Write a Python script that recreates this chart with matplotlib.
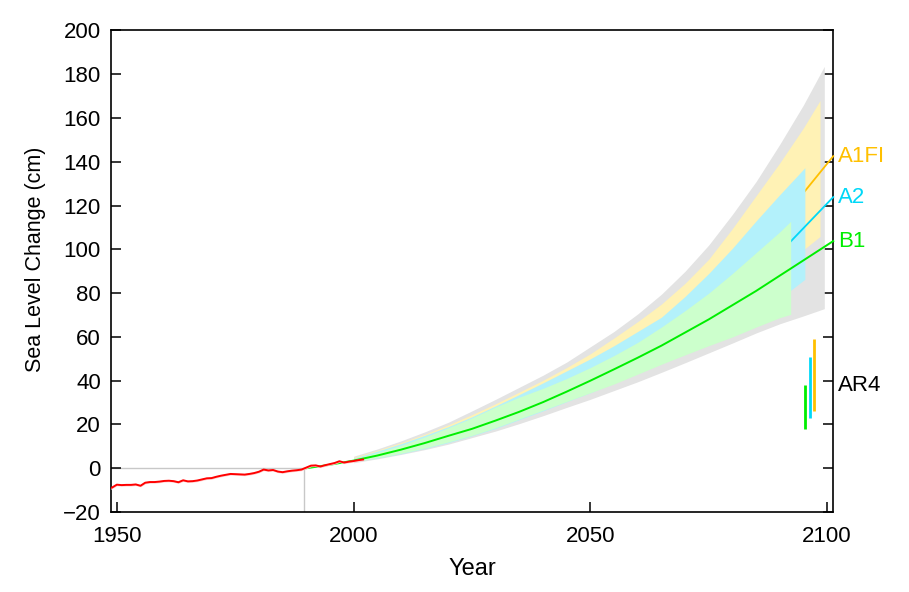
import matplotlib
matplotlib.use("Agg")
import matplotlib.pyplot as plt
import numpy as np

plt.rcParams['font.family'] = ['Liberation Sans', 'DejaVu Sans']

# ---------------- data ----------------
obs_years = list(range(1948, 2003))
obs_values = [-9.6, -8.8, -7.5, -7.7, -7.6, -7.6, -7.4, -8.0, -6.6, -6.3, -6.3, -6.1,
              -5.8, -5.7, -5.9, -6.4, -5.5, -6.0, -5.9, -5.6, -5.1, -4.6, -4.5, -3.9,
              -3.4, -3.0, -2.6, -2.7, -2.8, -2.9, -2.6, -2.2, -1.6, -0.6, -1.0, -0.8,
              -1.5, -1.8, -1.4, -1.1, -0.9, -0.6, 0.3, 1.2, 1.3, 0.8, 1.4, 1.9,
              2.4, 3.2, 2.6, 3.0, 3.3, 3.7, 4.0]

grey_years = [2000, 2005, 2010, 2015, 2020, 2025, 2030, 2035, 2040, 2045, 2050, 2055,
              2060, 2065, 2070, 2075, 2080, 2085, 2090, 2095, 2099.4]
grey_upper = [5.5, 8.8, 12.5, 16.6, 21.0, 26.2, 31.5, 37.0, 42.5, 48.5, 55.5, 62.5,
              70.5, 79.5, 90.0, 102.0, 116.0, 131.0, 148.0, 166.0, 183.6]
grey_lower = [2.5, 4.3, 6.3, 8.5, 11.0, 14.0, 17.0, 20.4, 24.0, 27.8, 31.5, 35.5,
              39.5, 43.8, 48.2, 52.7, 57.2, 61.8, 66.0, 69.6, 72.9]

a1fi_years = [2000, 2005, 2010, 2015, 2020, 2025, 2030, 2035, 2040, 2045, 2050, 2055,
              2060, 2065, 2070, 2075, 2080, 2085, 2090, 2095, 2098.5]
a1fi_upper = [5.0, 8.2, 11.7, 15.5, 19.8, 24.5, 29.5, 34.8, 40.2, 46.0, 52.3, 59.5,
              67.0, 75.0, 84.5, 95.5, 109.5, 124.5, 139.5, 155.5, 168.0]
a1fi_lower = [3.0, 4.9, 7.0, 9.3, 12.0, 15.1, 18.5, 22.5, 26.5, 30.7, 35.0, 40.0,
              45.0, 51.0, 57.0, 64.0, 71.0, 79.0, 88.0, 99.8, 105.9]

a2_years = [2000, 2005, 2010, 2015, 2020, 2025, 2030, 2035, 2040, 2045, 2050, 2055,
            2060, 2065, 2070, 2075, 2080, 2085, 2090, 2095.3]
a2_upper = [4.6, 7.8, 11.2, 15.0, 19.0, 23.5, 28.5, 33.7, 39.0, 44.5, 50.0, 56.0,
            62.5, 69.0, 78.5, 89.0, 100.5, 113.0, 125.0, 137.3]
a2_lower = [3.0, 4.7, 6.6, 9.0, 11.7, 14.8, 18.2, 22.2, 26.2, 30.4, 34.5, 39.0,
            44.0, 49.0, 54.0, 59.0, 64.0, 70.5, 77.5, 86.3]

b1_years = [2000, 2005, 2010, 2015, 2020, 2025, 2030, 2035, 2040, 2045, 2050, 2055,
            2060, 2065, 2070, 2075, 2080, 2085, 2090, 2092.3]
b1_upper = [4.3, 7.2, 10.5, 14.3, 18.5, 23.0, 28.0, 32.5, 36.5, 41.0, 46.0, 51.5,
            57.5, 64.5, 72.0, 80.0, 89.0, 98.5, 108.0, 112.8]
b1_lower = [3.0, 4.8, 6.8, 9.2, 12.0, 15.0, 18.5, 22.5, 26.5, 30.5, 34.5, 38.5,
            43.0, 47.5, 51.8, 56.0, 60.0, 64.5, 68.8, 70.3]

b1_mid_years = [1990, 1995, 2000, 2005, 2010, 2015, 2020, 2025, 2030, 2035, 2040, 2045,
                2050, 2055, 2060, 2065, 2070, 2075, 2080, 2085, 2090, 2092.3, 2101.3]
b1_mid_values = [0.0, 1.6, 3.5, 5.8, 8.5, 11.5, 14.8, 18.0, 21.8, 25.8, 30.2, 35.0,
                 40.0, 45.2, 50.5, 56.0, 62.0, 68.0, 74.5, 81.0, 88.0, 91.2, 103.8]

a2_leader_years = [2092.3, 2101.3]
a2_leader_values = [103.6, 123.9]
a1fi_leader_years = [2095.3, 2101.3]
a1fi_leader_values = [126.6, 142.6]

ar4_names = ["B1", "A2", "A1FI"]
ar4_years = [2095.3, 2096.3, 2097.3]
ar4_low = [18, 23, 26]
ar4_high = [38, 51, 59]

label_names = ["A1FI", "A2", "B1", "AR4"]
label_values = [142.6, 123.9, 103.6, 38.0]

baseline_year = 1989.5

# ---------------- colours ----------------
c_grey = "#E3E3E3"
c_yellow_band = "#FFF2B5"
c_cyan_band = "#B3F1FB"
c_green_band = "#CCFFCC"
c_orange = "#FFC000"
c_cyan = "#00D8F8"
c_green = "#00EE00"
label_colors = [c_orange, c_cyan, "#00EE00", "black"]

# ---------------- figure ----------------
fig = plt.figure(figsize=(9.09, 5.92), dpi=100)
ax = fig.add_axes([0.1216, 0.1351, 0.7951, 0.8134])

xmin, xmax = 1948.67, 2101.3
ax.set_xlim(xmin, xmax)
ax.set_ylim(-20, 200)

# reference lines
ax.plot([xmin, baseline_year], [0, 0], color="#C8C8C8", lw=1.0, zorder=1)
ax.plot([baseline_year, baseline_year], [-20, 0], color="#C8C8C8", lw=1.0, zorder=1)

# bands
ax.fill_between(grey_years, grey_lower, grey_upper, color=c_grey, lw=0, zorder=2)
ax.fill_between(a1fi_years, a1fi_lower, a1fi_upper, color=c_yellow_band, lw=0, zorder=3)
ax.plot(a1fi_leader_years, a1fi_leader_values, color=c_orange, lw=1.3, zorder=3.5, clip_on=False)
ax.fill_between(a2_years, a2_lower, a2_upper, color=c_cyan_band, lw=0, zorder=4)
ax.plot(a2_leader_years, a2_leader_values, color=c_cyan, lw=1.3, zorder=4.5, clip_on=False)
ax.fill_between(b1_years, b1_lower, b1_upper, color=c_green_band, lw=0, zorder=5)
ax.plot(b1_mid_years, b1_mid_values, color=c_green, lw=1.4, zorder=6, clip_on=False)

# observations
obs = np.array(obs_values)
ax.fill_between(obs_years, obs - 0.5, obs + 0.5, color="#FFD0D0", lw=0, zorder=6.5)
ax.plot(obs_years, obs_values, color="#FF0000", lw=1.4, zorder=7)

# AR4 bars
for yr, lo, hi, col in zip(ar4_years, ar4_low, ar4_high, [c_green, c_cyan, c_orange]):
    ax.plot([yr, yr], [lo, hi], color=col, lw=2.0, zorder=8, solid_capstyle='butt')

# labels on the right
for name, val, col in zip(label_names, label_values, label_colors):
    ax.text(2102.3, val, name, color=col, fontsize=16, va="center", ha="left", clip_on=False)

# axes styling
ax.set_xticks([1950, 2000, 2050, 2100])
ax.set_yticks(list(range(-20, 201, 20)))
ax.tick_params(axis='y', direction='in', length=7, width=1.1, labelsize=16,
               right=True, pad=7)
ax.tick_params(axis='x', direction='in', length=7, width=1.1, labelsize=16, pad=10)
for sp in ax.spines.values():
    sp.set_linewidth(1.2)
ax.set_xlabel("Year", fontsize=17, labelpad=8)
ax.set_ylabel("Sea Level Change (cm)", fontsize=15.5)
ax.yaxis.set_label_coords(-0.089, 0.525)

fig.savefig("out.png", dpi=100)
